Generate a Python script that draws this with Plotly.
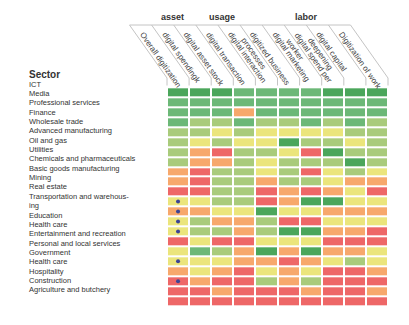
import plotly.graph_objects as go

W, H = 409, 325

sectors = ["ICT", "Media", "Professional services", "Finance", "Wholesale trade",
           "Advanced manufacturing", "Oil and gas", "Utilities",
           "Chemicals and pharmaceuticals", "Basic goods manufacturing", "Mining",
           "Real estate", "Transportation and warehous-<br>ing", "Education", "Health care",
           "Entertainment and recreation", "Personal and local services", "Government",
           "Health care", "Hospitality", "Construction", "Agriculture and butchery"]

metrics = ["Overall digitization", "digital spendingk", "digital asset stock",
           "digital transaction", "digital interaction", "digitized business<br>processes",
           "digital marketing", "digital spend per<br>worker", "digital capital<br>deepening",
           "Digitization of work"]

groups = ["asset", "usage", "labor"]

# 1 = highest digitization (dark green) ... 6 = lowest (red)
levels = [
    [1, 1, 1, 2, 2, 2, 2, 1, 1, 1],
    [2, 2, 2, 2, 2, 2, 2, 2, 2, 2],
    [2, 2, 2, 5, 2, 2, 2, 2, 2, 2],
    [2, 3, 3, 2, 3, 3, 2, 3, 2, 3],
    [3, 3, 4, 3, 4, 4, 4, 4, 3, 3],
    [3, 4, 3, 4, 4, 1, 3, 3, 4, 3],
    [3, 5, 6, 3, 3, 4, 6, 1, 3, 3],
    [3, 5, 5, 3, 4, 3, 3, 3, 1, 3],
    [5, 6, 3, 3, 4, 3, 6, 4, 3, 4],
    [5, 6, 3, 3, 5, 3, 3, 4, 5, 5],
    [6, 6, 3, 3, 6, 5, 6, 5, 4, 6],
    [4, 4, 3, 3, 6, 5, 1, 1, 4, 4],
    [5, 5, 4, 4, 1, 4, 4, 5, 5, 5],
    [4, 3, 5, 5, 3, 6, 6, 4, 4, 4],
    [4, 3, 3, 5, 3, 1, 1, 5, 5, 6],
    [6, 4, 6, 6, 4, 4, 4, 6, 6, 6],
    [4, 2, 3, 5, 1, 5, 1, 5, 5, 4],
    [4, 4, 4, 5, 5, 6, 5, 4, 3, 4],
    [5, 4, 5, 6, 4, 5, 4, 6, 6, 5],
    [6, 5, 6, 6, 3, 5, 3, 6, 6, 6],
    [6, 6, 5, 6, 6, 6, 5, 6, 6, 5],
    [6, 6, 6, 6, 6, 6, 6, 6, 6, 6],
]

flag_rows = [11, 12, 13, 14, 17, 19]
flag_col = [0, 0, 0, 0, 0, 0]

palette = ["#4ba65b", "#6cb877", "#a9cb7b", "#ebe57c", "#f7a86c", "#ee6767"]

n = len(palette)
cs = []
for i, c in enumerate(palette):
    cs.append([i / n, c])
    cs.append([(i + 1) / n, c])

X0, X1 = 167, 388
col_px = (X1 - X0) / len(metrics)

def py(p):
    return 1 - p / H

fig = go.Figure()
fig.add_trace(go.Heatmap(
    z=levels, x=list(range(len(metrics))), y=list(range(len(levels))),
    colorscale=cs, zmin=0.5, zmax=6.5, showscale=False,
    xgap=2, ygap=2, hoverinfo="skip"))
fig.add_trace(go.Scatter(
    x=flag_col, y=flag_rows, mode="markers",
    marker=dict(size=4, color="#3c4596"), hoverinfo="skip", showlegend=False))

ann = []
shapes = []
font = "Liberation Sans, Arial, sans-serif"

# header separator lines
dx_px = 37.5
for k in range(len(metrics) + 1):
    xb = X0 + k * col_px
    shapes.append(dict(type="line", xref="paper", yref="paper", x0=xb / W, x1=xb / W,
                       y0=py(85.5), y1=py(78), line=dict(color="#c4c4c4", width=1)))
    shapes.append(dict(type="line", xref="paper", yref="paper", x0=xb / W, x1=(xb - dx_px) / W,
                       y0=py(78), y1=py(25), line=dict(color="#c4c4c4", width=1)))
shapes.append(dict(type="line", xref="paper", yref="paper", x0=(X0 - dx_px) / W,
                   x1=(X1 - dx_px) / W, y0=py(25), y1=py(25),
                   line=dict(color="#c4c4c4", width=1)))

# column header labels
for j, m in enumerate(metrics):
    nl = m.count("<br>") + 1
    cx = X0 + (j + 0.5) * col_px
    xl = cx - 36 - 7 - (nl - 1) * 8.5
    ann.append(dict(text=m, x=xl / W, y=py(27.5), xref="paper", yref="paper",
                    xanchor="left", yanchor="top", textangle=55, showarrow=False,
                    align="left", font=dict(family=font, size=8, color="#444")))

# group labels
for g, gx in zip(groups, [172, 222, 306]):
    ann.append(dict(text="<b>" + g + "</b>", x=gx / W, y=py(17), xref="paper", yref="paper",
                    xanchor="center", yanchor="middle", showarrow=False,
                    font=dict(family=font, size=9, color="#333")))

# sector labels
ann.append(dict(text="<b>Sector</b>", x=27 / W, y=py(74.5), xref="paper", yref="paper",
                xanchor="left", yanchor="middle", showarrow=False,
                font=dict(family=font, size=10, color="#333")))
line = 0
for s in sectors:
    for part in s.split("<br>"):
        ann.append(dict(text=part, x=27 / W, y=py(84 + 9.36 * line), xref="paper", yref="paper",
                        xanchor="left", yanchor="middle", showarrow=False,
                        font=dict(family=font, size=7.5, color="#333")))
        line += 1

fig.update_layout(
    width=W, height=H, margin=dict(l=0, r=0, t=0, b=0),
    paper_bgcolor="white", plot_bgcolor="white",
    xaxis=dict(domain=[X0 / W, X1 / W], range=[-0.5, 9.5], visible=False, fixedrange=True),
    yaxis=dict(domain=[py(306), py(87.3)], range=[21.5, -0.5], visible=False, fixedrange=True),
    annotations=ann, shapes=shapes, showlegend=False)

fig.write_html("out.html", config={"displayModeBar": False})
